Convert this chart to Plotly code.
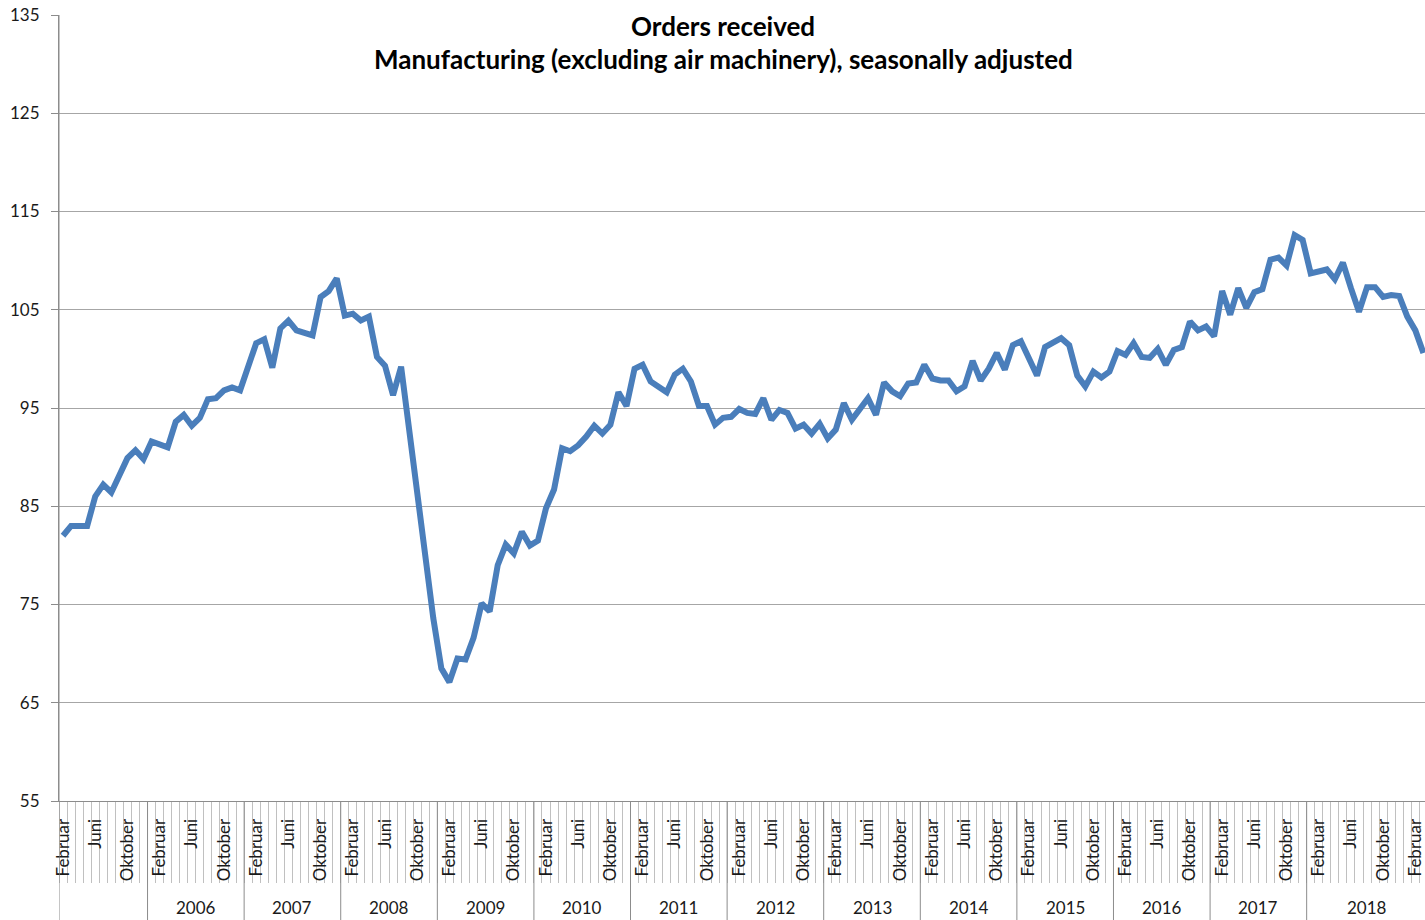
import plotly.graph_objects as go

# ---------------- data ----------------
month_names = ["Januar", "Februar", "März", "April", "Mai", "Juni", "Juli",
               "August", "September", "Oktober", "November", "Dezember"]
start_year, start_month = 2005, 2   # Februar 2005
n_points = 170                      # Februar 2005 .. März 2019

values = [
    82.0, 83.0, 83.0, 83.0, 86.0, 87.2, 86.4, 88.2, 89.9, 90.7, 89.8,          # 2005
    91.6, 91.3, 91.0, 93.6, 94.3, 93.2, 94.0, 95.9, 96.0, 96.8, 97.1, 96.8,    # 2006
    99.2, 101.6, 102.0, 99.1, 103.1, 103.9, 102.9, 102.7, 102.4, 106.3, 106.9, 108.2,  # 2007
    104.4, 104.6, 103.9, 104.3, 100.2, 99.3, 96.3, 99.2, 92.9, 87.1, 80.4, 73.6,       # 2008
    68.5, 67.1, 69.5, 69.4, 71.6, 75.1, 74.3, 79.0, 81.1, 80.2, 82.4, 81.0,    # 2009
    81.5, 84.8, 86.7, 90.9, 90.6, 91.2, 92.1, 93.2, 92.4, 93.3, 96.6, 95.2,    # 2010
    99.0, 99.4, 97.7, 97.1, 96.6, 98.4, 99.0, 97.7, 95.2, 95.2, 93.3, 94.0,    # 2011
    94.1, 94.9, 94.5, 94.4, 96.0, 93.8, 94.8, 94.5, 92.9, 93.3, 92.4, 93.4,    # 2012
    91.9, 92.8, 95.5, 93.8, 94.9, 96.0, 94.3, 97.6, 96.7, 96.2, 97.5, 97.6,    # 2013
    99.4, 98.0, 97.8, 97.8, 96.7, 97.2, 99.8, 97.8, 99.0, 100.6, 98.9, 101.4,  # 2014
    101.8, 100.1, 98.3, 101.2, 101.6, 102.1, 101.4, 98.3, 97.2, 98.7, 98.1, 98.7,  # 2015
    100.8, 100.4, 101.6, 100.2, 100.1, 101.0, 99.4, 100.9, 101.2, 103.8, 102.9, 103.3,  # 2016
    102.3, 106.9, 104.5, 107.2, 105.2, 106.8, 107.1, 110.1, 110.3, 109.5, 112.6, 112.1,  # 2017
    108.7, 108.9, 109.1, 108.1, 109.8, 107.2, 104.8, 107.3, 107.3, 106.3, 106.5, 106.4,  # 2018
    104.3, 102.9, 100.6,                                                        # 2019
]

labelled_months = ["Februar", "Juni", "Oktober"]
labelled_years = list(range(2006, 2019))   # year captions shown under the axis
y_ticks = [55, 65, 75, 85, 95, 105, 115, 125, 135]

title_line1 = "Orders received"
title_line2 = "Manufacturing (excluding air machinery), seasonally adjusted"

# ---------------- categories ----------------
cat_month, cat_year = [], []
y, m = start_year, start_month
for _ in range(n_points):
    cat_month.append(month_names[m - 1])
    cat_year.append(y)
    m += 1
    if m > 12:
        m = 1
        y += 1

x_idx = list(range(n_points))
tick_text = [mn if mn in labelled_months else "" for mn in cat_month]

FONT = "Lato, Calibri, 'Liberation Sans', sans-serif"
TXT = "#1a1a1a"
GRID = "#a6a6a6"
AXIS = "#8c8c8c"
MINOR = "#c0c0c0"

fig = go.Figure()
fig.add_trace(go.Scatter(
    x=x_idx, y=values, mode="lines",
    line=dict(color="#4a7ebb", width=6),
    hoverinfo="skip", showlegend=False,
))

# year dividers and year captions
shapes = []
annotations = []
bottom_paper = -0.16
for yr in labelled_years:
    first = cat_year.index(yr)
    shapes.append(dict(type="line", xref="x", yref="paper",
                       x0=first - 0.5, x1=first - 0.5, y0=bottom_paper, y1=0,
                       line=dict(color=AXIS, width=1)))
    idxs = [i for i, cy in enumerate(cat_year) if cy == yr or (yr == labelled_years[-1] and cy > yr)]
    centre = (idxs[0] + idxs[-1]) / 2.0
    annotations.append(dict(text=str(yr), xref="x", yref="paper", x=centre, y=-0.1349,
                            showarrow=False, font=dict(family=FONT, size=17, color=TXT),
                            xanchor="center", yanchor="middle"))
# left axis extension below the plot
shapes.append(dict(type="line", xref="x", yref="paper", x0=-0.5, x1=-0.5,
                   y0=bottom_paper, y1=1, line=dict(color=AXIS, width=1)))

# title
title_x = (723 - 59) / 1366
annotations.append(dict(text="<b>%s</b>" % title_line1, xref="paper", yref="paper",
                        x=title_x, y=(801 - 26) / 786, showarrow=False,
                        font=dict(family=FONT, size=26, color="#000000"),
                        xanchor="center", yanchor="middle"))
annotations.append(dict(text="<b>%s</b>" % title_line2, xref="paper", yref="paper",
                        x=title_x, y=(801 - 59) / 786, showarrow=False,
                        font=dict(family=FONT, size=26, color="#000000"),
                        xanchor="center", yanchor="middle"))

fig.update_layout(
    width=1425, height=920,
    margin=dict(l=59, r=0, t=15, b=119),
    paper_bgcolor="white", plot_bgcolor="white",
    shapes=shapes, annotations=annotations,
    showlegend=False,
)
fig.update_xaxes(
    range=[-0.5, 169.2],
    tickmode="array", tickvals=x_idx, ticktext=tick_text,
    tickangle=-90, ticks="", ticklabelstandoff=10,
    tickfont=dict(family=FONT, size=17, color=TXT),
    showgrid=False, zeroline=False,
    showline=True, linecolor=AXIS, linewidth=1,
    minor=dict(tick0=-0.5, dtick=1, ticks="outside", ticklen=81,
               tickcolor=MINOR, tickwidth=1, showgrid=False),
)
fig.update_yaxes(
    range=[55, 135], tickmode="array", tickvals=y_ticks,
    ticktext=[str(v) for v in y_ticks],
    ticks="outside", ticklen=7, tickcolor=AXIS, ticklabelstandoff=8,
    tickfont=dict(family=FONT, size=17, color=TXT),
    showgrid=True, gridcolor=GRID, gridwidth=1,
    zeroline=False, showline=True, linecolor=AXIS, linewidth=1,
)

fig.write_html("out.html")
